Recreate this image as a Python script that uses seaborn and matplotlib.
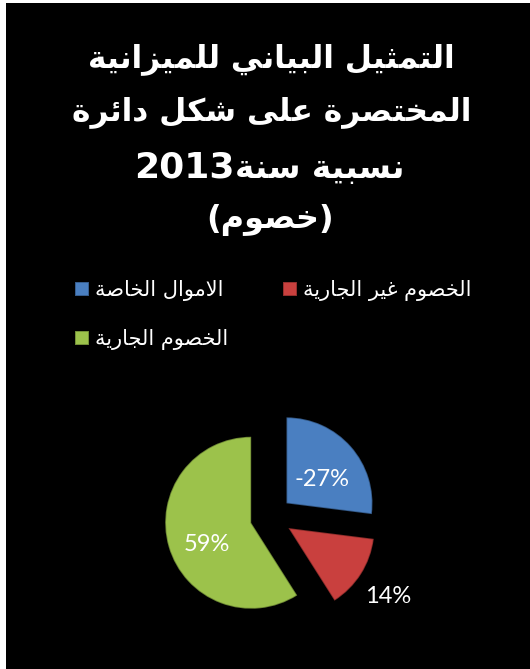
import matplotlib
matplotlib.use("Agg")
import matplotlib.pyplot as plt
import seaborn as sns
import numpy as np
from matplotlib.patches import Rectangle

# ---------------- data ----------------
title_lines = ["التمثيل البياني للميزانية",
               "المختصرة على شكل دائرة",
               "نسبية سنة",
               "(خصوم)"]
title_year = "2013"
categories = ["الاموال الخاصة", "الخصوم غير الجارية", "الخصوم الجارية"]
values = [-27, 14, 59]
colors = ["#4a7fc1", "#c9403e", "#9cc24b"]

# ---------------- simple Arabic shaping ----------------
F = {
    '\u0621': ('\uFE80', None, None, None),
    '\u0622': ('\uFE81', '\uFE82', None, None),
    '\u0623': ('\uFE83', '\uFE84', None, None),
    '\u0624': ('\uFE85', '\uFE86', None, None),
    '\u0625': ('\uFE87', '\uFE88', None, None),
    '\u0626': ('\uFE89', '\uFE8A', '\uFE8B', '\uFE8C'),
    '\u0627': ('\uFE8D', '\uFE8E', None, None),
    '\u0628': ('\uFE8F', '\uFE90', '\uFE91', '\uFE92'),
    '\u0629': ('\uFE93', '\uFE94', None, None),
    '\u062A': ('\uFE95', '\uFE96', '\uFE97', '\uFE98'),
    '\u062B': ('\uFE99', '\uFE9A', '\uFE9B', '\uFE9C'),
    '\u062C': ('\uFE9D', '\uFE9E', '\uFE9F', '\uFEA0'),
    '\u062D': ('\uFEA1', '\uFEA2', '\uFEA3', '\uFEA4'),
    '\u062E': ('\uFEA5', '\uFEA6', '\uFEA7', '\uFEA8'),
    '\u062F': ('\uFEA9', '\uFEAA', None, None),
    '\u0630': ('\uFEAB', '\uFEAC', None, None),
    '\u0631': ('\uFEAD', '\uFEAE', None, None),
    '\u0632': ('\uFEAF', '\uFEB0', None, None),
    '\u0633': ('\uFEB1', '\uFEB2', '\uFEB3', '\uFEB4'),
    '\u0634': ('\uFEB5', '\uFEB6', '\uFEB7', '\uFEB8'),
    '\u0635': ('\uFEB9', '\uFEBA', '\uFEBB', '\uFEBC'),
    '\u0636': ('\uFEBD', '\uFEBE', '\uFEBF', '\uFEC0'),
    '\u0637': ('\uFEC1', '\uFEC2', '\uFEC3', '\uFEC4'),
    '\u0638': ('\uFEC5', '\uFEC6', '\uFEC7', '\uFEC8'),
    '\u0639': ('\uFEC9', '\uFECA', '\uFECB', '\uFECC'),
    '\u063A': ('\uFECD', '\uFECE', '\uFECF', '\uFED0'),
    '\u0641': ('\uFED1', '\uFED2', '\uFED3', '\uFED4'),
    '\u0642': ('\uFED5', '\uFED6', '\uFED7', '\uFED8'),
    '\u0643': ('\uFED9', '\uFEDA', '\uFEDB', '\uFEDC'),
    '\u0644': ('\uFEDD', '\uFEDE', '\uFEDF', '\uFEE0'),
    '\u0645': ('\uFEE1', '\uFEE2', '\uFEE3', '\uFEE4'),
    '\u0646': ('\uFEE5', '\uFEE6', '\uFEE7', '\uFEE8'),
    '\u0647': ('\uFEE9', '\uFEEA', '\uFEEB', '\uFEEC'),
    '\u0648': ('\uFEED', '\uFEEE', None, None),
    '\u0649': ('\uFEEF', '\uFEF0', None, None),
    '\u064A': ('\uFEF1', '\uFEF2', '\uFEF3', '\uFEF4'),
}
LAMALEF = {'\u0622': ('\uFEF5', '\uFEF6'), '\u0623': ('\uFEF7', '\uFEF8'),
           '\u0625': ('\uFEF9', '\uFEFA'), '\u0627': ('\uFEFB', '\uFEFC')}


def joins_next(c):
    return c in F and F[c][2] is not None


def accepts_prev(c):
    return c in F and F[c][1] is not None


def shape(s):
    n = len(s)
    res = []
    i = 0
    while i < n:
        c = s[i]
        if c not in F:
            res.append(c)
            i += 1
            continue
        prev = s[i - 1] if i > 0 else None
        cp = prev is not None and joins_next(prev) and accepts_prev(c)
        if c == '\u0644' and i + 1 < n and s[i + 1] in LAMALEF:
            iso, fin = LAMALEF[s[i + 1]]
            res.append(fin if cp else iso)
            i += 2
            continue
        nxt = s[i + 1] if i + 1 < n else None
        cn = nxt is not None and joins_next(c) and accepts_prev(nxt)
        iso, fin, ini, med = F[c]
        if cp and cn:
            res.append(med)
        elif cp:
            res.append(fin)
        elif cn:
            res.append(ini)
        else:
            res.append(iso)
        i += 1
    vis = ''.join(res)[::-1]
    out, run = [], []
    for ch in vis:
        if ch.isdigit():
            run.append(ch)
        else:
            if run:
                out.extend(run[::-1]); run = []
            out.append(ch)
    if run:
        out.extend(run[::-1])
    vis = ''.join(out)
    return vis.translate(str.maketrans({'(': ')', ')': '('}))


# ---------------- figure ----------------
sns.set_theme(style="dark")
plt.rcParams['font.family'] = ['DejaVu Sans']

W, H = 530, 669
fig = plt.figure(figsize=(W / 100, H / 100), dpi=100)
fig.patch.set_facecolor("black")
fig.patches.append(Rectangle((0, 0), 6 / W, 1, transform=fig.transFigure,
                             facecolor="white", edgecolor="none", zorder=0))
fig.patches.append(Rectangle((0, 1 - 3 / H), 1, 3 / H, transform=fig.transFigure,
                             facecolor="white", edgecolor="none", zorder=0))

# title
tkw = dict(fontweight="bold", color="white", family="DejaVu Sans", va="baseline")
fig.text(271 / W, 1 - 67 / H, shape(title_lines[0]), ha="center", fontsize=22.5, **tkw)
fig.text(272 / W, 1 - 120 / H, shape(title_lines[1]), ha="center", fontsize=22.5, **tkw)
fig.text(235 / W, 1 - 178 / H, shape(title_lines[2]), ha="left", fontsize=23.5, **tkw)
fig.text(235 / W, 1 - 178 / H, title_year, ha="right", fontsize=26, **tkw)
fig.text(270 / W, 1 - 228 / H, shape(title_lines[3]), ha="center", fontsize=23, **tkw)

# pie
cx, cy, r = 271, 517, 86
half = 1.25 * r
ax = fig.add_axes([(cx - half) / W, (H - cy - half) / H, 2 * half / W, 2 * half / H])
ax.set_facecolor("none")
abs_vals = [abs(v) for v in values]
wedges, _ = ax.pie(abs_vals, colors=colors, startangle=90, counterclock=False,
                   explode=[0.24] * len(values),
                   wedgeprops=dict(linewidth=1.2, edgecolor="#00000050"))
ax.set_xlim(-1.25, 1.25)
ax.set_ylim(-1.25, 1.25)
ax.axis("off")

tot = sum(abs_vals)
label_pos = [(0.5, -8), (1.4, -2), (0.57, 10)]  # (radius factor, angle shift)
for w, v, (t, dth) in zip(wedges, values, label_pos):
    th = np.deg2rad((w.theta1 + w.theta2) / 2 + dth)
    x = w.center[0] + t * w.r * np.cos(th)
    y = w.center[1] + t * w.r * np.sin(th)
    ax.text(x, y, f"{v / tot * 100:.0f}%", ha="center", va="center",
            fontsize=17, color="white", family=["Lato", "DejaVu Sans"])

# legend (row-wise order: blue, red / green)
order = [0, 2, 1]
leg = fig.legend([wedges[i] for i in order], [shape(categories[i]) for i in order],
                 ncol=2, loc="upper left", bbox_to_anchor=(75 / W, 1 - 280 / H),
                 frameon=False, fontsize=15, labelcolor="white",
                 handlelength=0.67, handleheight=0.67, handletextpad=0.3,
                 columnspacing=2.6, labelspacing=1.35, borderpad=0, borderaxespad=0)

fig.savefig("out.png", dpi=100, facecolor=fig.get_facecolor())
